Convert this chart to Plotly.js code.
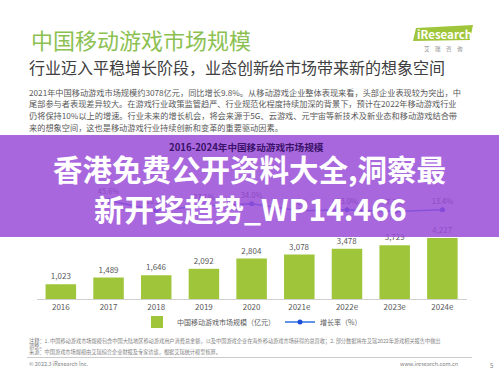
<!DOCTYPE html>
<html>
<head>
<meta charset="utf-8">
<script src="https://cdn.plot.ly/plotly-3.0.1.min.js"></script>
<style>html,body{margin:0;padding:0;background:#fff;}#chart{width:499px;height:372px;}</style>
</head>
<body>
<div id="chart"></div>
<script>
// ---- data ----
const years = ['2016','2017','2018','2019','2020','2021e','2022e','2023e','2024e'];
const marketSize = [1023, 1489, 1646, 2092, 2804, 3078, 3478, 3729, 4227];
const growthYears = ['2017','2018','2019','2020','2021e','2022e','2023e','2024e'];
const growthRate = [45.6, 10.5, 27.1, 34.0, 9.8, 13.0, 7.2, 13.4];
const barName = '中国移动游戏市场规模（亿元）';
const lineName = '增长率（%）';
const chartTitle = '2016-2024年中国移动游戏市场规模';
const headTitle = '中国移动游戏市场规模';
const headSub = '行业迈入平稳增长阶段，业态创新给市场带来新的想象空间';
const paragraph = [
  '2021年中国移动游戏市场规模约3078亿元，同比增长9.8%。从移动游戏企业整体表现来看，头部企业表现较为突出，中',
  '尾部参与者表现差异较大。在游戏行业政策监管趋严、行业规范化程度持续加深的背景下，预计在2022年移动游戏行业',
  '仍将保持10%以上的增速。行业未来的增长机会，将会来源于5G、云游戏、元宇宙等新技术及新业态和移动游戏结合带',
  '来的想象空间，这也是移动游戏行业持续创新和变革的重要驱动因素。'
];
const bannerLines = ['香港免费公开资料大全,洞察最', '新开奖趋势_WP14.466'];
const notes = [
  '注释：1. 中国移动游戏市场规模包含中国大陆地区移动游戏用户消费总金额，以及中国游戏企业在海外移动游戏市场获得的总营收；2. 部分数据将在艾瑞2022年游戏相关报告中做出',
  '调整。',
  '来源：中国游戏市场规模由艾瑞综合企业财报及专家访谈，根据艾瑞统计模型核算。'
];
const copyright = '© 2022.3 iResearch Inc.';
const website = 'www.iresearch.com.cn';
const pageNo = '5';

// ---- layout helpers (pixel -> paper) ----
const L = 37, R = 467, T = 180, B = 299;
const px = x => (x - L) / (R - L);
const py = y => (B - y) / (B - T);
const CJK = '"Noto Sans CJK SC", "Noto Sans", sans-serif';

const traces = [
  {
    type: 'bar', x: years, y: marketSize, name: barName,
    marker: {color: '#9fc63a'},
    text: marketSize, texttemplate: '%{y:,}', textposition: 'outside',
    textfont: {size: 8, color: '#595959', family: CJK},
    cliponaxis: false, hoverinfo: 'x+y'
  },
  {
    type: 'scatter', mode: 'lines+markers+text', x: growthYears, y: growthRate,
    yaxis: 'y2', name: lineName,
    line: {color: '#2f6fe0', width: 1.5},
    marker: {color: '#1f4fd8', size: 5},
    text: growthRate, texttemplate: '%{y:.1f}%', textposition: 'top center',
    textfont: {size: 7.5, color: '#3a3a3a', family: CJK},
    cliponaxis: false
  }
];

const ann = [];
function txt(text, x, y, size, color, anchor, extra) {
  ann.push(Object.assign({
    text: text, xref: 'paper', yref: 'paper', x: px(x), y: py(y),
    xanchor: anchor || 'left', yanchor: 'middle', showarrow: false,
    font: {size: size, color: color, family: CJK}
  }, extra || {}));
}
txt(headTitle, 29, 39, 22, '#8cc152');
txt(headSub, 27, 67, 16, '#404040');
paragraph.forEach((l, i) => txt(l, 27, 91.5 + i * 11.7, 8.2, '#595959'));
txt('<b>' + chartTitle + '</b>', 246, 147, 9.6, '#3a1268', 'center');
txt('<b>' + bannerLines[0] + '</b>', 249, 168, 29.5, '#ffffff', 'center');
txt('<b>' + bannerLines[1] + '</b>', 250, 208, 30, '#ffffff', 'center');
txt('<b>iResearch</b>', 444, 34, 11.5, '#ffffff', 'center');
txt('艾　瑞　咨　询', 443, 49, 5.5, '#8c8c8c', 'center');
txt(notes[0], 27, 341, 5.2, '#7f7f7f');
txt(notes[1], 27, 346, 5.2, '#7f7f7f');
txt(notes[2], 27, 352, 5.2, '#7f7f7f');
txt(copyright, 27, 364, 5.5, '#7f7f7f');
txt(website, 460, 364, 5.5, '#7f7f7f', 'right');
txt(pageNo, 491, 365, 6, '#7f7f7f', 'center');

const shapes = [
  // logo plate
  {type: 'path', xref: 'paper', yref: 'paper',
   path: `M ${px(413)},${py(41)} L ${px(416)},${py(28)} L ${px(473)},${py(25)} L ${px(470)},${py(40)} Z`,
   fillcolor: '#9fc63a', line: {width: 0}, layer: 'below'},
  // footer rule
  {type: 'line', xref: 'paper', yref: 'paper', x0: px(27), x1: px(472), y0: py(357.5), y1: py(357.5),
   line: {color: '#bfbfbf', width: 0.8}},
  // purple banner
  {type: 'rect', xref: 'paper', yref: 'paper', x0: px(0), x1: px(499), y0: py(237), y1: py(135),
   fillcolor: 'rgba(152,74,216,0.84)', line: {width: 0}, layer: 'above'}
];

const layout = {
  width: 499, height: 372,
  margin: {l: L, r: 499 - R, t: T, b: 372 - B, pad: 0},
  paper_bgcolor: '#ffffff', plot_bgcolor: '#ffffff',
  font: {family: CJK, color: '#595959'},
  bargap: 0.36,
  showlegend: true,
  legend: {orientation: 'h', x: 0.5, xanchor: 'center', y: py(322), yanchor: 'middle',
           font: {size: 7, color: '#595959', family: CJK}, itemwidth: 30, tracegroupgap: 0,
           bgcolor: 'rgba(0,0,0,0)'},
  xaxis: {type: 'category', showline: true, linecolor: '#d0d0d0', linewidth: 1,
          ticks: '', showgrid: false, zeroline: false,
          tickfont: {size: 8, color: '#595959', family: CJK}, fixedrange: true},
  yaxis: {range: [0, 8246], visible: false, showgrid: false, zeroline: false, fixedrange: true},
  yaxis2: {range: [-299, 117], overlaying: 'y', side: 'right', visible: false,
           showgrid: false, zeroline: false, fixedrange: true},
  annotations: ann,
  shapes: shapes
};

Plotly.newPlot('chart', traces, layout, {displayModeBar: false, staticPlot: true});
</script>
</body>
</html>
